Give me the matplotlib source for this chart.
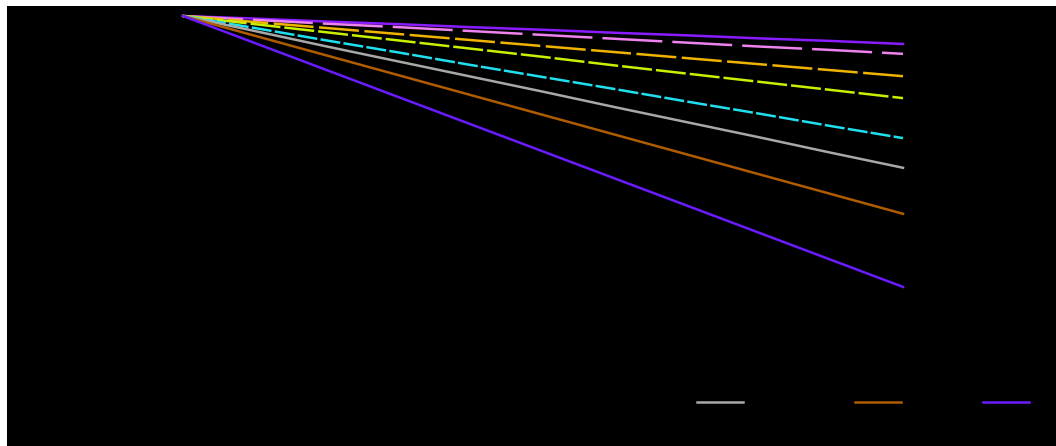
import numpy as np
import matplotlib.pyplot as plt

# values (x = step, y = remaining level)
steps = [0, 1, 2, 3, 4, 5, 6, 7, 8, 9, 10]
s_violet = [100, 99.4, 98.7, 98.1, 97.4, 96.8, 96.1, 95.5, 94.8, 94.2, 93.5]
s_pink = [100, 99.1, 98.2, 97.4, 96.5, 95.6, 94.7, 93.8, 92.9, 92.1, 91.2]
s_gold = [100, 98.6, 97.2, 95.8, 94.4, 93.0, 91.6, 90.2, 88.8, 87.4, 86.0]
s_lime = [100, 98.1, 96.2, 94.3, 92.4, 90.5, 88.5, 86.6, 84.7, 82.8, 80.9]
s_cyan = [100, 97.2, 94.3, 91.5, 88.6, 85.8, 83.0, 80.1, 77.3, 74.4, 71.6]
s_gray = [100, 96.5, 92.9, 89.4, 85.9, 82.4, 78.8, 75.3, 71.8, 68.2, 64.7]
s_brown = [100, 95.4, 90.8, 86.2, 81.6, 77.0, 72.4, 67.8, 63.2, 58.6, 54.0]
s_blue = [100, 93.7, 87.4, 81.1, 74.8, 68.5, 62.2, 55.9, 49.6, 43.3, 37.0]

fig = plt.figure(figsize=(10.56, 4.46), dpi=100, facecolor='white')
ax = fig.add_axes([7 / 1056, 0, 1049 / 1056, 440 / 446])
ax.set_facecolor('black')

lw = 1.8
ax.plot(steps, s_violet, color='#8a1cff', lw=lw)
ax.plot(steps, s_pink, color='#ee82ee', lw=lw, dashes=(24, 4))
ax.plot(steps, s_gold, color='#f0b400', lw=lw, dashes=(16, 2.2))
ax.plot(steps, s_lime, color='#c8f000', lw=lw, dashes=(12, 1.6))
ax.plot(steps, s_cyan, color='#20e0f0', lw=lw, dashes=(8, 1.3))
ax.plot(steps, s_gray, color='#a8a8a8', lw=lw, label='Scenario 6')
ax.plot(steps, s_brown, color='#b05c00', lw=lw, label='Scn. 7')
ax.plot(steps, s_blue, color='#6a1bff', lw=lw, label='8')

ax.set_xlim(-176 / 72, 10 + 153 / 72)
ax.set_ylim(0, 100 + 10 / 4.3)
for s in ax.spines.values():
    s.set_visible(False)
ax.set_xticks([])
ax.set_yticks([])

leg = ax.legend(loc='center left', bbox_to_anchor=(697 / 1056, 43 / 446),
                bbox_transform=fig.transFigure, ncol=3, frameon=False,
                handlelength=3.3, handletextpad=0.8, columnspacing=2.0,
                borderpad=0, borderaxespad=0)
for t in leg.get_texts():
    t.set_color('black')

fig.savefig('out.png', dpi=100, facecolor='white')
